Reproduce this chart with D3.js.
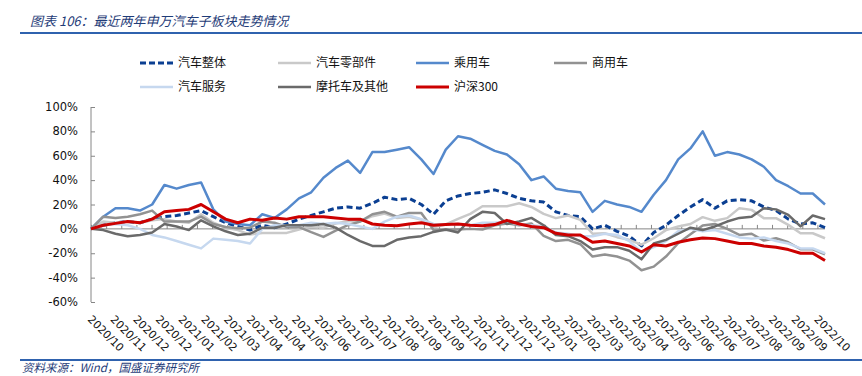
<!DOCTYPE html>
<html>
<head>
<meta charset="utf-8">
<script src="https://cdn.jsdelivr.net/npm/d3@7/dist/d3.min.js"></script>
<style>
  body { margin: 0; background: #fff; }
  svg { display: block; }
</style>
</head>
<body>
<div id="chart"></div>
<script>
// 每个序列每隔约8个交易日取一个值（%），共61个点，最后一点为第485个交易日
const totalDays = 485;
const labelStep = 15;
const tickStep = 10;

const xLabels = ["2020/10","2020/11","2020/12","2020/12","2021/01","2021/02","2021/03","2021/04","2021/04",
  "2021/05","2021/06","2021/07","2021/07","2021/08","2021/09","2021/09","2021/10","2021/11","2021/12",
  "2021/12","2022/01","2022/02","2022/03","2022/03","2022/04","2022/05","2022/06","2022/06","2022/07",
  "2022/08","2022/09","2022/09","2022/10"];

const yTicks = [100, 80, 60, 40, 20, 0, -20, -40, -60];

const autoAll = [0,3,5,6,5,8,10,11,13,15,10,5,2,-1,3,1,4,8,11,14,17,18,17,21,26,24,25,20,12,23,27,29,30,32,29,25,23,22,14,11,10,0,3,-2,-6,-14,-3,3,11,18,24,17,23,24,23,18,15,8,4,5,1];
const autoParts = [0,6,5,6,5,7,8,6,5,12,5,1,-1,-4.7,-3.3,-3.3,-3.3,-0.5,2,1,4.4,6.3,6.3,10.4,12.6,9,10,7.7,1.4,3.6,8.2,12.3,18.6,18.6,18.6,21,18,12.3,8.8,11,7.4,-4,-3.6,-6.8,-9,-13,-7.7,-1,2,4,9.6,6.6,8.8,17,15.6,8.8,8.8,3.3,-3.6,-3.6,-7.7];
const passengerCar = [0,10,17,17,15,20,36,33,36,38,16,6,4,3,12,9,16,25,30,42,50,56,46,63,63,65,67,57,45,65,76,74,69,64,61,53,40,43,33,31,30,14,23,20,18,14,28,40,57,66,80,60,63,61,57,51,40,35,29,29,20];
const commercialCar = [0,10,9,10,12,15,6,6,6,10,4,1.5,0.5,1,6,5,1.5,1.5,-2.7,-6.6,-1.4,3,6,12,14,10,13,13,-1,-1,-0.5,0,-0.5,3,4.5,3,4.5,-5.7,-10,-9,-12.6,-22.7,-21,-22.7,-26,-34,-31,-22.7,-11.8,-4.4,2.7,4,0,-5,-4,-9.6,-7.7,-11,-16.7,-16.7,-21];
const autoService = [0,3,4,3,0,-5,-7,-10,-13,-16,-8,-9,-10,-12,0,3,2.5,3,5,4,5,4,2,0,6,10,11,8,4,3.5,4,3,5,5,6,3.5,3,2,-3,-4,-6,-6,-4,-5,-10,-19,-15,-10,-2,0,-2,-1,-4,-7,-8,-7,-10,-12,-16,-16,-20];
const motoOther = [0,-1,-4,-6,-5,-3,4,2,-1,7,2,-2,-5,-4,1,1,3,3,3,4,1,-5,-10,-14,-14,-9,-7,-6,-2.5,-0.5,-3,8,14,13,4,6,9,3,-5,-6,-10,-17,-15,-15,-18,-25,-12,-9,-4,1,-1,2,6,9,10,17,16,11.5,2,11,8];
const hs300 = [0,3,4.5,6,5,8,14,15,16,20,14,8,5,8,7,9,8,10,10,10,9,8,8,4,3,2.5,4,5,3,3.5,4,3,2.5,3.5,7,4,2,1,-3.6,-5,-5,-11,-10,-12,-14,-19,-13,-14,-11,-9,-7.5,-8,-10,-12,-12,-14,-15,-17,-20,-20,-26];

const series = [
  { name: "汽车整体", values: autoAll, color: "#0b3f92", width: 3, dash: "6,3.5" },
  { name: "汽车零部件", values: autoParts, color: "#c9c9c9", width: 2.5 },
  { name: "乘用车", values: passengerCar, color: "#5589cc", width: 2.5 },
  { name: "商用车", values: commercialCar, color: "#929292", width: 2.5 },
  { name: "汽车服务", values: autoService, color: "#c6d8ef", width: 2.5 },
  { name: "摩托车及其他", values: motoOther, color: "#6a6a6a", width: 2.5 },
  { name: "沪深300", values: hs300, color: "#cc0000", width: 3 }
];

const width = 862, height = 376;
const svg = d3.select("#chart").append("svg").attr("width", width).attr("height", height);

// 标题
svg.append("text")
  .attr("x", 30).attr("y", 26)
  .style("font-family", "'Noto Sans CJK SC', sans-serif").style("font-size", "13px")
  .style("font-style", "italic").style("fill", "#1f3c78")
  .text("图表 106：最近两年申万汽车子板块走势情况");
svg.append("line").attr("x1", 20).attr("x2", 862).attr("y1", 33).attr("y2", 33)
  .style("stroke", "#2f62ae").style("stroke-width", 2);

// 比例尺
const x = d3.scaleLinear().domain([0, totalDays]).range([91, 825]);
const y = d3.scaleLinear().domain([-60, 100]).range([302, 107]);
const n = autoAll.length;
const dayOf = i => i * totalDays / (n - 1);

// y轴
const yAxis = svg.append("g").attr("transform", `translate(${x(0)},0)`)
  .call(d3.axisRight(y).tickValues(yTicks).tickSize(4).tickFormat(""));
yAxis.select(".domain").attr("d", `M0,${y(100)}V${y(-60)}`).style("stroke", "#868686");
yAxis.selectAll(".tick line").style("stroke", "#868686");
svg.append("g").selectAll("text").data(yTicks).enter().append("text")
  .attr("x", 78).attr("y", d => y(d)).attr("dy", "0.35em")
  .attr("text-anchor", "end")
  .style("font-family", "'DejaVu Sans', sans-serif").style("font-size", "11.5px").style("fill", "#111")
  .text(d => d + "%");

// 0轴（类别轴）
const xAxis = svg.append("g").attr("transform", `translate(0,${y(0)})`)
  .call(d3.axisTop(x).tickValues(d3.range(0, totalDays, tickStep)).tickSize(4).tickFormat(""));
xAxis.select(".domain").attr("d", `M${x(0)},0H${x(totalDays)}`).style("stroke", "#868686");
xAxis.selectAll(".tick line").style("stroke", "#868686");

svg.append("g").selectAll("text").data(xLabels).enter().append("text")
  .attr("transform", (d, i) => `translate(${x(i * labelStep) - 4},320) rotate(45)`)
  .style("font-family", "'DejaVu Sans', sans-serif").style("font-size", "11px").style("fill", "#111")
  .text(d => d);

// 折线
const line = d3.line().x((d, i) => x(dayOf(i))).y(d => y(d));
svg.append("g").selectAll("path").data(series).enter().append("path")
  .attr("d", d => line(d.values))
  .style("fill", "none")
  .style("stroke", d => d.color)
  .style("stroke-width", d => d.width)
  .style("stroke-dasharray", d => d.dash || null)
  .style("stroke-linejoin", "round");

// 图例
const legendX = [140, 278, 416, 554];
const legend = svg.append("g").selectAll("g").data(series).enter().append("g")
  .attr("transform", (d, i) => `translate(${legendX[i % 4]},${i < 4 ? 63 : 87})`);
legend.append("line").attr("x1", 0).attr("x2", 33)
  .style("stroke", d => d.color).style("stroke-width", d => d.width)
  .style("stroke-dasharray", d => d.dash ? "6,3" : null);
legend.append("text").attr("x", 38).attr("dy", "0.35em")
  .style("font-family", "'Noto Sans CJK SC', sans-serif").style("font-size", "12px").style("fill", "#111")
  .text(d => d.name);

// 资料来源
svg.append("line").attr("x1", 20).attr("x2", 862).attr("y1", 360).attr("y2", 360)
  .style("stroke", "#2f62ae").style("stroke-width", 2);
svg.append("text")
  .attr("x", 22).attr("y", 372)
  .style("font-family", "'Noto Sans CJK SC', sans-serif").style("font-size", "11.5px")
  .style("font-style", "italic").style("fill", "#1f3c78")
  .text("资料来源：Wind，国盛证券研究所");
</script>
</body>
</html>
